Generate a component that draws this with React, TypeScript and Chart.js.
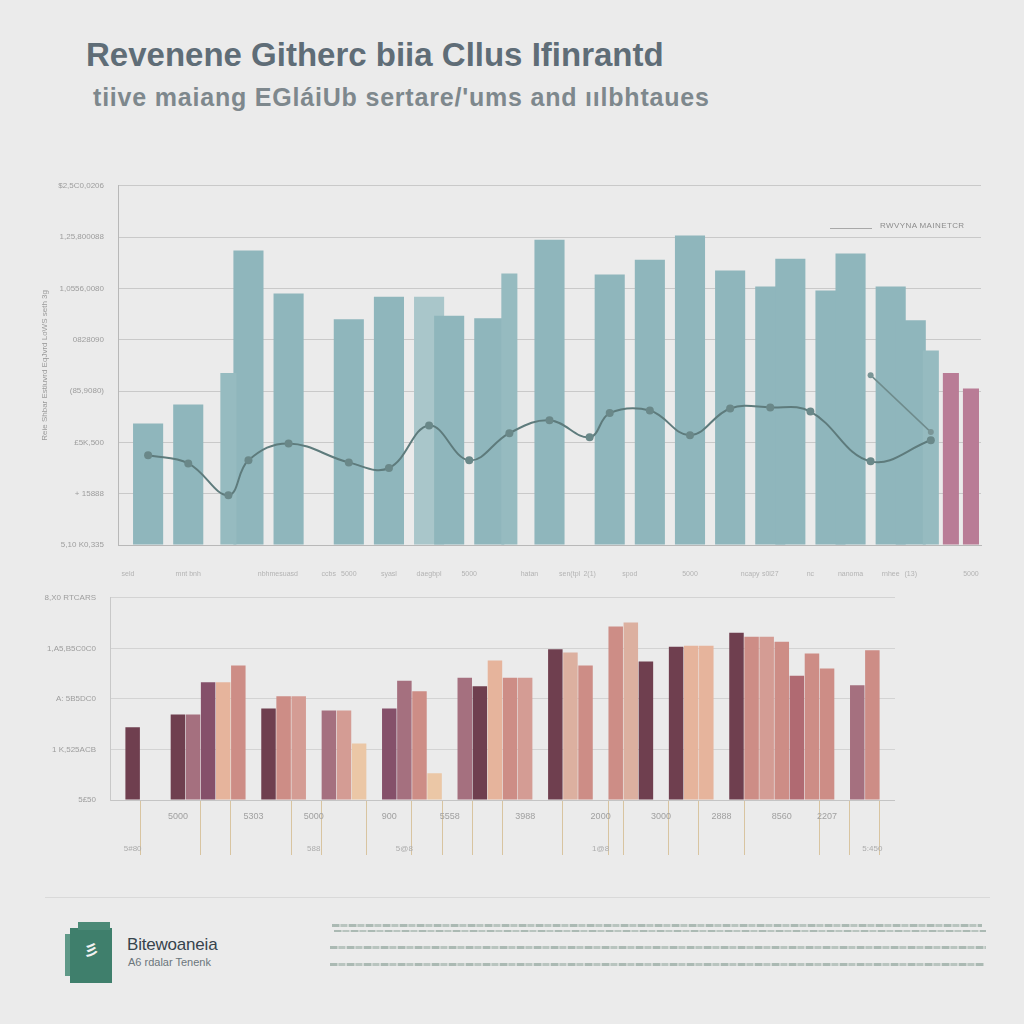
import React, { useEffect, useRef } from "react";
import Chart from "chart.js/auto";

// ---------- text ----------
const titleText = "Revenene Githerc biia Cllus Ifinrantd";
const subtitleText = "tiive maiang EGláiUb sertare/'ums and ıılbhtaues";
const legendText = "RWVYNA MAINETCR";
const topYTitle = "Reie Shbar Estiuvrd EqJvrd LoWS seth 3g";
const brandName = "Bitewoaneia";
const brandTagline = "A6 rdalar Tenenk";

// ---------- top chart data (43 slots) ----------
const topSlotLabels = [
  "seld", "", "", "mnt bnh", "", "", "", "nbhme", "suasd", "", "ccbs",
  "5000", "", "syasl", "", "daegbpl", "", "5000", "", "", "hatan", "",
  "sen(tpl", "2(1)", "", "spod", "", "", "5000", "", "", "ncapy", "s0l27",
  "", "nc", "", "nanoma", "", "rnhee", "(13)", "", "", "5000",
];
const topYTicks = [
  "5,10 K0,335", "+ 15888", "£5K,500", "(85,9080)", "0828090",
  "1,0556,0080", "1,25,800088", "$2,5C0,0206",
];
const topWideValues = [
  null, 2.37, null, 2.74, null, null, 5.74, null, 4.9, null, null,
  4.4, null, 4.84, null, 4.84, 4.47, null, 4.42, null, null, 5.95,
  null, null, 5.27, null, 5.56, null, 6.03, null, 5.35, null, 5.04,
  5.58, null, 4.96, 5.68, null, 5.04, 4.38, null, null, null,
];
const topNarrowValues = [
  null, null, null, null, null, 3.35, null, null, null, null, null,
  null, null, null, null, null, null, null, null, 5.29, null, null,
  null, null, null, null, null, null, null, null, null, null, null,
  null, null, null, null, null, null, null, 3.79, 3.35, 3.05,
];
const topTrendValues = [
  null, 1.75, null, 1.59, null, 0.97, 1.65, null, 1.98, null, null,
  1.61, null, 1.5, null, 2.33, null, 1.65, null, 2.18, null, 2.43,
  null, 2.1, 2.57, null, 2.62, null, 2.14, null, 2.66, null, 2.68,
  null, 2.6, null, null, 1.63, null, null, 2.04, null, null,
];
const topBranchValues = [
  null, null, null, null, null, null, null, null, null, null, null,
  null, null, null, null, null, null, null, null, null, null, null,
  null, null, null, null, null, null, null, null, null, null, null,
  null, null, null, null, 3.31, null, null, 2.2, null, null,
];
const topPinkSlots = [41, 42];
const topPaleSlots = [15];

// ---------- bottom chart data (52 slots) ----------
const bottomYTicks = ["5£50", "1 K,525ACB", "A: 5B5DC0", "1,A5,B5C0C0", "8,X0 RTCARS"];
const bottomValues = [
  null, 1.44, null, null, 1.69, 1.69, 2.33, 2.33, 2.66, null, 1.81, 2.05, 2.05,
  null, 1.77, 1.77, 1.12, null, 1.81, 2.36, 2.15, 0.53, null, 2.42, 2.25, 2.76,
  2.42, 2.42, null, 2.98, 2.92, 2.66, null, 3.43, 3.51, 2.74, null, 3.03, 3.05,
  3.05, null, 3.31, 3.23, 3.23, 3.13, 2.46, 2.9, 2.6, null, 2.27, 2.96, null,
];
const bottomTones = [
  "", "maroon", "", "", "maroon", "mauve", "plum", "peach", "salmon", "", "maroon", "salmon", "rose",
  "", "mauve", "rose", "sand", "", "plum", "mauve", "salmon", "sand", "", "mauve", "maroon", "peach",
  "salmon", "rose", "", "maroon", "blush", "salmon", "", "salmon", "blush", "maroon", "", "maroon", "peach",
  "peach", "", "maroon", "salmon", "rose", "salmon", "rosewood", "salmon", "salmon", "", "mauve", "salmon", "",
];
const bottomLabels = [
  "", "", "", "", "5000", "", "", "", "", "5303", "", "", "", "5000", "", "", "", "",
  "900", "", "", "", "5558", "", "", "", "", "3988", "", "", "", "", "2000", "", "", "",
  "3000", "", "", "", "2888", "", "", "", "8560", "", "", "2207", "", "", "", "",
];
const bottomLowerLabels = [
  "", "5#80", "", "", "", "", "", "", "", "", "", "", "", "588", "", "", "", "", "",
  "5@8", "", "", "", "", "", "", "", "", "", "", "", "", "1@8", "", "", "", "", "",
  "", "", "", "", "", "", "", "", "", "", "", "", "5:450", "",
];
const bottomLeaderSlots = [2, 6, 8, 12, 14, 17, 20, 22, 24, 26, 30, 33, 34, 37, 39, 42, 47, 49, 51];

const palette: Record<string, string> = {
  maroon: "#6f3f4f",
  plum: "#85506a",
  mauve: "#a5707f",
  peach: "#e6b49c",
  salmon: "#cd8d86",
  rose: "#d49c94",
  blush: "#dcb0a0",
  sand: "#ebc7a6",
  rosewood: "#b06a72",
};

const FONT = "'Liberation Sans', Arial, sans-serif";

function useChart(ref: React.RefObject<HTMLCanvasElement | null>, makeConfig: () => any) {
  useEffect(() => {
    if (!ref.current) return;
    const chart = new Chart(ref.current, makeConfig());
    return () => chart.destroy();
  }, []);
}

function TopChart() {
  const ref = useRef<HTMLCanvasElement>(null);
  useChart(ref, () => ({
    type: "bar",
    data: {
      labels: topSlotLabels,
      datasets: [
        {
          type: "line",
          data: topTrendValues,
          borderColor: "#5e7b7c",
          borderWidth: 2,
          pointRadius: 4,
          pointBackgroundColor: "#6a8889",
          pointBorderWidth: 0,
          tension: 0.4,
          spanGaps: true,
          order: 0,
        },
        {
          type: "line",
          data: topBranchValues,
          borderColor: "#6f8b8c",
          borderWidth: 1.5,
          pointRadius: 3,
          pointBackgroundColor: "#7a9596",
          pointBorderWidth: 0,
          spanGaps: true,
          order: 0,
        },
        {
          type: "bar",
          data: topNarrowValues,
          backgroundColor: (c: any) => (topPinkSlots.includes(c.dataIndex) ? "#b97c96" : "#96bbc0"),
          barPercentage: 0.8,
          categoryPercentage: 1,
          grouped: false,
          order: 1,
        },
        {
          type: "bar",
          data: topWideValues,
          backgroundColor: (c: any) => (topPaleSlots.includes(c.dataIndex) ? "#a9c6ca" : "#8fb6bc"),
          barPercentage: 1.5,
          categoryPercentage: 1,
          grouped: false,
          order: 2,
        },
      ],
    },
    options: {
      animation: false,
      responsive: false,
      layout: { padding: { top: 2, right: 0, left: 0, bottom: 0 } },
      plugins: { legend: { display: false }, tooltip: { enabled: false } },
      scales: {
        x: {
          grid: { drawOnChartArea: false, drawTicks: true, tickLength: 25, color: "rgba(0,0,0,0)" },
          border: { display: true, color: "#b8b8b8" },
          ticks: {
            autoSkip: false,
            maxRotation: 0,
            minRotation: 0,
            font: { size: 7, family: FONT },
            color: "#b3b3b3",
            padding: 0,
          },
          afterFit: (s: any) => {
            s.height = 45;
          },
        },
        y: {
          min: 0,
          max: 7,
          ticks: {
            stepSize: 1,
            callback: (v: any) => topYTicks[v] ?? "",
            font: { size: 8, family: FONT },
            color: "#9d9d9d",
            padding: 14,
          },
          grid: { color: "#c9c9c9", drawTicks: false },
          border: { display: true, color: "#b8b8b8" },
          title: {
            display: true,
            text: topYTitle,
            font: { size: 8, family: FONT },
            color: "#9a9a9a",
            padding: { top: 10, bottom: 0 },
          },
          afterFit: (s: any) => {
            s.width = 88;
          },
        },
      },
    },
  }));
  return <canvas ref={ref} width={955} height={423} style={{ position: "absolute", left: 30, top: 167 }} />;
}

function BottomChart() {
  const ref = useRef<HTMLCanvasElement>(null);
  useChart(ref, () => ({
    type: "bar",
    data: {
      labels: bottomLabels,
      datasets: [
        {
          data: bottomValues,
          backgroundColor: bottomTones.map((t) => palette[t] || "rgba(0,0,0,0)"),
          barPercentage: 0.96,
          categoryPercentage: 1,
        },
      ],
    },
    options: {
      animation: false,
      responsive: false,
      layout: { padding: { top: 2, right: 0, left: 0, bottom: 0 } },
      plugins: { legend: { display: false }, tooltip: { enabled: false } },
      scales: {
        x: {
          offset: true,
          grid: {
            display: true,
            offset: true,
            drawOnChartArea: false,
            drawTicks: true,
            tickLength: 55,
            lineWidth: 1,
            color: (c: any) => (bottomLeaderSlots.includes(c.index) ? "#d8c4a0" : "rgba(0,0,0,0)"),
          },
          border: { display: true, color: "#c4c4c4" },
          ticks: {
            autoSkip: false,
            maxRotation: 0,
            minRotation: 0,
            font: { size: 9, family: FONT },
            color: "#a0a0a0",
            padding: -44,
          },
          afterFit: (s: any) => {
            s.height = 30;
          },
        },
        x2: {
          type: "category",
          labels: bottomLowerLabels,
          position: "bottom",
          offset: true,
          grid: { display: true, drawOnChartArea: false, drawTicks: true, tickLength: 14, color: "rgba(0,0,0,0)" },
          border: { display: false },
          ticks: {
            autoSkip: false,
            maxRotation: 0,
            minRotation: 0,
            font: { size: 8, family: FONT },
            color: "#acacac",
            padding: 0,
          },
          afterFit: (s: any) => {
            s.height = 45;
          },
        },
        y: {
          min: 0,
          max: 4,
          ticks: {
            stepSize: 1,
            callback: (v: any) => bottomYTicks[v] ?? "",
            font: { size: 8, family: FONT },
            color: "#9d9d9d",
            padding: 14,
          },
          grid: { color: "#d3d3d3", drawTicks: false },
          border: { display: true, color: "#c8c8c8" },
          afterFit: (s: any) => {
            s.width = 80;
          },
        },
      },
    },
  }));
  return <canvas ref={ref} width={865} height={296} style={{ position: "absolute", left: 30, top: 579 }} />;
}

const textLine = (top: number, left: number, width: number, h = 3): React.CSSProperties => ({
  position: "absolute",
  top,
  left,
  width,
  height: h,
  background: "repeating-linear-gradient(90deg, #a4b4ad 0px, #a4b4ad 7px, #c9d1cd 7px, #c9d1cd 9px, #b3c0ba 9px, #b3c0ba 15px, #d2d8d5 15px, #d2d8d5 17px)",
  opacity: 0.9,
});

export default function App() {
  Chart.defaults.font.family = FONT;
  return (
    <div
      style={{
        position: "absolute",
        left: 0,
        top: 0,
        width: 1024,
        height: 1024,
        background: "#ebebeb",
        overflow: "hidden",
        fontFamily: FONT,
      }}
    >
      <div
        style={{
          position: "absolute",
          left: 86,
          top: 36,
          fontSize: 33,
          fontWeight: 700,
          color: "#5f6d77",
          whiteSpace: "nowrap",
          letterSpacing: 0,
        }}
      >
        {titleText}
      </div>
      <div
        style={{
          position: "absolute",
          left: 93,
          top: 83,
          fontSize: 25,
          fontWeight: 700,
          color: "#7e888d",
          whiteSpace: "nowrap",
          letterSpacing: 0.8,
        }}
      >
        {subtitleText}
      </div>

      <TopChart />
      <div style={{ position: "absolute", left: 830, top: 228, width: 42, height: 1, background: "#a8a8a8" }} />
      <div
        style={{
          position: "absolute",
          left: 880,
          top: 221,
          fontSize: 8,
          color: "#8c8c8c",
          letterSpacing: 0.4,
          whiteSpace: "nowrap",
        }}
      >
        {legendText}
      </div>

      <BottomChart />

      <div style={{ position: "absolute", left: 45, top: 897, width: 945, height: 1, background: "#d9d9d9" }} />

      {/* logo */}
      <div style={{ position: "absolute", left: 65, top: 934, width: 10, height: 42, background: "#5f9988" }} />
      <div style={{ position: "absolute", left: 70, top: 928, width: 42, height: 55, background: "#3f7f6c" }} />
      <div style={{ position: "absolute", left: 78, top: 922, width: 32, height: 8, background: "#4b8a77" }} />
      <div
        style={{
          position: "absolute",
          left: 84,
          top: 938,
          fontSize: 15,
          fontWeight: 700,
          color: "#f2f2f2",
          fontFamily: "'Noto Sans CJK SC', sans-serif",
        }}
      >
        彡
      </div>
      <div
        style={{
          position: "absolute",
          left: 127,
          top: 935,
          fontSize: 17,
          color: "#37444d",
          whiteSpace: "nowrap",
          letterSpacing: -0.2,
        }}
      >
        {brandName}
      </div>
      <div
        style={{
          position: "absolute",
          left: 128,
          top: 956,
          fontSize: 11,
          color: "#6c767c",
          whiteSpace: "nowrap",
        }}
      >
        {brandTagline}
      </div>

      <div style={textLine(924, 332, 650)} />
      <div style={textLine(930, 334, 652, 2)} />
      <div style={textLine(946, 330, 656)} />
      <div style={textLine(963, 330, 654)} />
    </div>
  );
}
